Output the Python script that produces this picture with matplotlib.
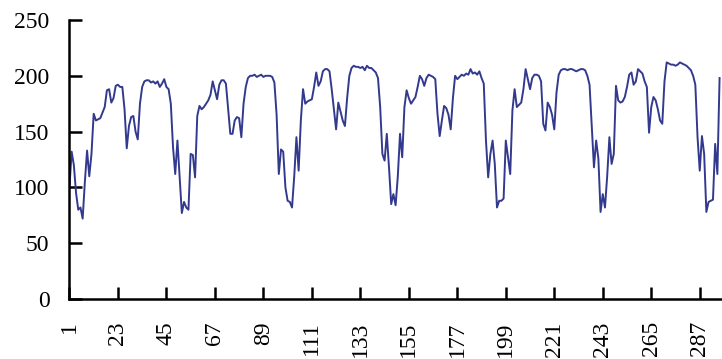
import numpy as np
import matplotlib
matplotlib.use("Agg")
from matplotlib import pyplot as plt

# values, one per sample (1..296)
values = [
    100, 132, 120, 95, 80, 82, 72, 105, 133, 110,
    130, 166, 160, 161, 162, 167, 172, 187, 188, 176,
    180, 191, 192, 190, 190, 170, 135, 155, 163, 164,
    150, 143, 175, 190, 195, 196, 196, 194, 195, 193,
    195, 190, 193, 197, 190, 188, 175, 136, 112, 142,
    110, 77, 87, 82, 80, 130, 129, 109, 164, 173,
    170, 172, 175, 178, 183, 195, 187, 179, 192, 196,
    196, 193, 170, 148, 148, 160, 163, 162, 145, 175,
    190, 198, 200, 200, 201, 199, 200, 201, 199, 200,
    200, 200, 199, 194, 165, 112, 134, 132, 100, 88,
    87, 82, 110, 145, 115, 160, 188, 175, 177, 178,
    179, 190, 203, 191, 195, 204, 206, 206, 204, 188,
    170, 152, 176, 168, 160, 155, 180, 200, 207, 209,
    208, 208, 207, 208, 205, 209, 207, 207, 205, 203,
    198, 172, 130, 124, 148, 118, 85, 94, 84, 110,
    148, 127, 172, 187, 180, 175, 178, 181, 190, 200,
    197, 191, 198, 201, 200, 199, 197, 166, 146, 160,
    173, 171, 165, 152, 180, 200, 197, 199, 201, 200,
    202, 201, 206, 202, 203, 201, 204, 198, 193, 142,
    109, 130, 142, 121, 82, 88, 88, 90, 142, 127,
    112, 169, 188, 172, 174, 176, 188, 206, 197, 188,
    198, 201, 201, 200, 195, 157, 151, 176, 172, 165,
    152, 185, 201, 205, 206, 206, 205, 206, 206, 205,
    204, 205, 206, 206, 205, 200, 192, 155, 118, 142,
    126, 78, 94, 82, 110, 145, 121, 130, 191, 178,
    176, 177, 181, 190, 201, 203, 192, 195, 206, 204,
    202, 195, 190, 149, 172, 181, 178, 170, 160, 157,
    195, 212, 211, 210, 210, 209, 210, 212, 211, 210,
    209, 207, 205, 200, 192, 145, 115, 146, 130, 78,
    87, 88, 89, 139, 112, 198,
]
x_ticks = [1, 23, 45, 67, 89, 111, 133, 155, 177, 199, 221, 243, 265, 287]
y_ticks = [0, 50, 100, 150, 200, 250]

plt.rcParams['font.family'] = ['Liberation Serif', 'DejaVu Serif']

fig = plt.figure(figsize=(7.22, 3.59), dpi=100)
ax = fig.add_axes([69 / 722, 60 / 359, 1 - 69 / 722, 279 / 359])

x = np.arange(1, len(values) + 1)
ax.plot(x, values, color="#333a8e", linewidth=1.4)

ax.set_xlim(0.8, 297.1)
ax.set_ylim(0, 250)
ax.set_xticks(x_ticks)
ax.set_xticklabels([str(t) for t in x_ticks], rotation=90)
ax.set_yticks(y_ticks)

for side in ["top", "right"]:
    ax.spines[side].set_visible(False)
for side in ["left", "bottom"]:
    ax.spines[side].set_linewidth(1.8)

ax.tick_params(axis="both", direction="in", length=9, width=1.8,
               labelsize=17, colors="black")
ax.tick_params(axis="y", pad=14)
ax.tick_params(axis="x", pad=16)

fig.savefig("out.png", dpi=100)
